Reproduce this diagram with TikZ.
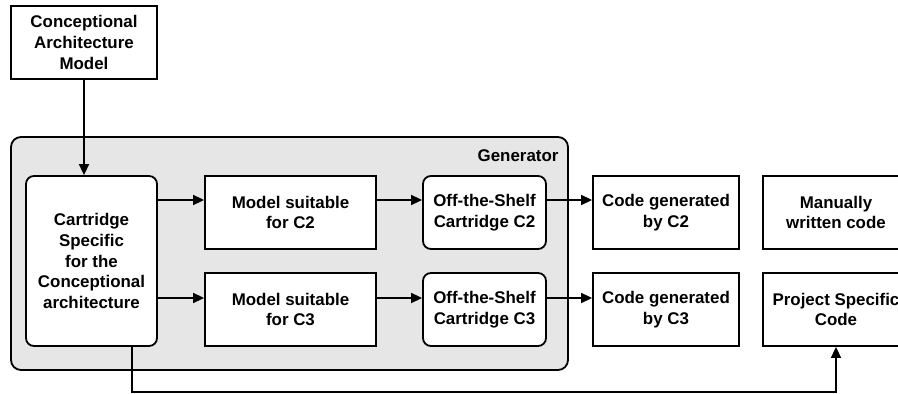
\documentclass[tikz,border=0pt]{standalone}
\usepackage{fontspec}
\setmainfont{Liberation Sans}
\usetikzlibrary{arrows.meta}
\definecolor{genfill}{HTML}{E6E6E6}
\begin{document}
\begin{tikzpicture}[x=1pt,y=-1pt,
  every node/.style={font=\fontsize{16.9}{20.7}\selectfont\bfseries},
  box/.style={draw=black,line width=1.8pt,fill=white,align=center,inner sep=0pt},
  sqbox/.style={box,minimum width=146pt,minimum height=73pt},
  rbox/.style={box,rounded corners=8pt},
  conn/.style={line width=1.6pt,-{Triangle[length=11pt,width=10pt]}}]
\useasboundingbox (0,0) rectangle (898,394);

% generator container
\node[draw=black,line width=1.8pt,fill=genfill,rounded corners=10pt,
      minimum width=557pt,minimum height=233pt,inner sep=0pt] (gen) at (289.5,253.5) {};
\node[anchor=base east] (genlabel) at (562,161) {Generator};

% input model
\node[sqbox] (cam) at (84,42.5) {Conceptional\\Architecture\\Model};

% generator content
\node[rbox,minimum width=131pt,minimum height=170pt] (cart) at (91.5,261)
  {Cartridge\\Specific\\for the\\Conceptional\\architecture};
\node[box,minimum width=171pt,minimum height=73pt] (m2) at (290.5,212.5) {Model suitable\\for C2};
\node[box,minimum width=171pt,minimum height=73pt] (m3) at (290.5,309.5) {Model suitable\\for C3};
\node[rbox,minimum width=123pt,minimum height=73pt] (o2) at (484.5,212.5) {Off-the-Shelf\\Cartridge C2};
\node[rbox,minimum width=123pt,minimum height=73pt] (o3) at (484.5,309.5) {Off-the-Shelf\\Cartridge C3};

% resulting code
\node[sqbox] (c2) at (666,212.5) {Code generated\\by C2};
\node[sqbox] (c3) at (666,309.5) {Code generated\\by C3};
\node[sqbox] (mw) at (836,212.5) {Manually\\written code};
\node[sqbox] (ps) at (836,309.5) {Project Specific\\Code};

% row heights of the connectors
\coordinate (r2) at (0,200);
\coordinate (r3) at (0,298);
\coordinate (fbL) at (132,392);
\coordinate (fbR) at (836,392);

\draw[conn] (cam.south) -- (cam.south |- cart.north);
\draw[conn] (cart.east |- r2) -- (m2.west |- r2);
\draw[conn] (cart.east |- r3) -- (m3.west |- r3);
\draw[conn] (m2.east |- r2) -- (o2.west |- r2);
\draw[conn] (m3.east |- r3) -- (o3.west |- r3);
\draw[conn] (o2.east |- r2) -- (c2.west |- r2);
\draw[conn] (o3.east |- r3) -- (c3.west |- r3);
\draw[conn] (fbL |- cart.south) -- (fbL) -- (fbR) -- (fbR |- ps.south);
\end{tikzpicture}
\end{document}
